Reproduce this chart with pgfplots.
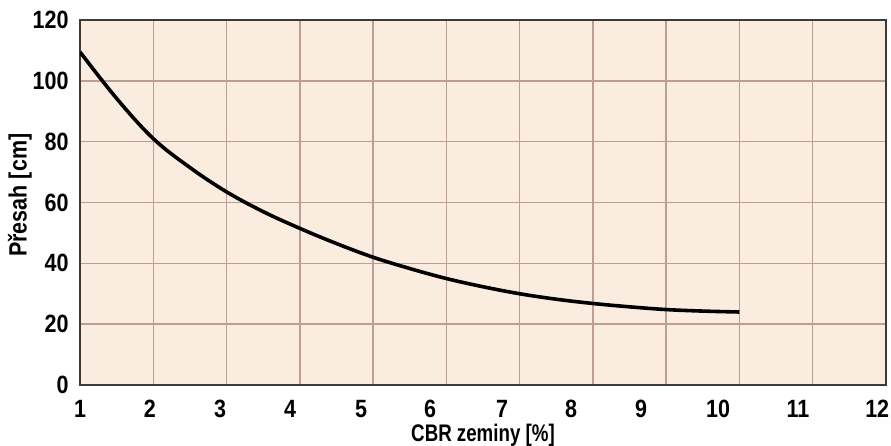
\documentclass[border=0pt]{standalone}
\usepackage{pgfplots}
\pgfplotsset{compat=1.18}
\usepackage{fontspec}
\setmainfont{Liberation Sans}[FakeStretch=0.86]
\newfontfamily\cond{Liberation Sans}[FakeStretch=0.78]

\definecolor{paper}{RGB}{250,237,224}
\definecolor{gridc}{RGB}{190,158,148}
\definecolor{framec}{RGB}{60,58,58}

\begin{document}
\begin{tikzpicture}
\begin{axis}[
    width=806pt, height=365pt, scale only axis,
    xmin=1, xmax=12, ymin=0, ymax=120,
    xtick={1,...,12}, xticklabels={},
    % the labels of the original sit a little off the grid lines
    extra x ticks={1,1.955,2.911,3.866,4.835,5.777,6.759,7.701,8.657,9.708,10.80,11.88},
    extra x tick labels={1,2,3,4,5,6,7,8,9,10,11,12},
    extra x tick style={grid=none},
    ytick={0,20,...,120},
    grid=major,
    major grid style={gridc, line width=1.4pt},
    axis background/.style={fill=paper},
    axis line style={framec, line width=2pt},
    tick style={draw=none},
    tick label style={font=\bfseries\fontsize{25}{27}\selectfont},
    /pgf/number format/assume math mode=true,
    xticklabel style={yshift=-12pt},
    yticklabel style={xshift=-8pt},
    xlabel={CBR zeminy [\%]},
    ylabel={Přesah [cm]},
    xlabel style={font=\cond\bfseries\fontsize{24}{26}\selectfont,
        at={(axis description cs:0.5,-0.137)}, anchor=center},
    ylabel style={font=\bfseries\fontsize{25}{27}\selectfont,
        at={(axis description cs:-0.0745,0.52)}, anchor=center},
]
\addplot[black, line width=3.6pt, smooth, tension=0.6, line cap=butt] coordinates {
    (1,109.5) (1.5,94.2) (2,81.0) (2.5,71.5) (3,63.5) (3.5,57.0) (4,51.5)
    (4.5,46.5) (5,42.0) (5.5,38.3) (6,35.0) (6.5,32.3) (7,30.0)
    (7.5,28.2) (8,26.8) (8.5,25.7) (9,24.8) (9.5,24.3) (10,24.0)
};
\end{axis}
\pgfresetboundingbox
\path[use as bounding box] ([shift={(-80pt,-61pt)}]current axis.south west)
    rectangle ([shift={(5pt,20pt)}]current axis.north east);
\end{tikzpicture}
\end{document}
